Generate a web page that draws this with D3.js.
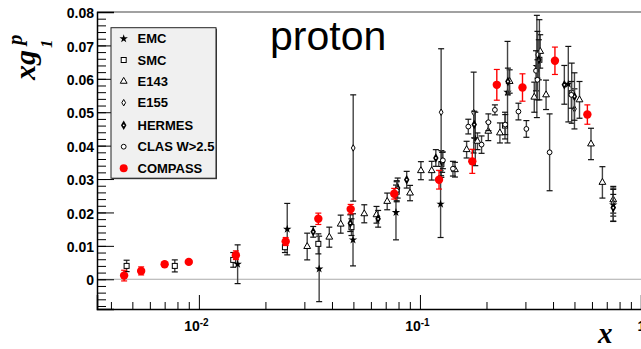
<!DOCTYPE html>
<html>
<head>
<meta charset="utf-8">
<script src="https://cdn.jsdelivr.net/npm/d3@7"></script>
<style>
  body { margin: 0; background: #fff; }
  svg { display: block; }
  .tick text { font-family: "Liberation Sans", Arial, sans-serif; font-weight: bold; font-size: 14px; fill: #000; }
</style>
</head>
<body>
<svg id="chart" width="641" height="349"></svg>
<script>
// each point: [x, xg1, error]
const emc = [[0.01497,0.0045,0.0058],[0.0251,0.0150,0.0077],[0.035,0.0031,0.0098],[0.0498,0.0118,0.0078],
  [0.0779,0.0200,0.0082],[0.124,0.0225,0.0100],[0.178,0.0420,0.0080],[0.249,0.0560,0.0152],
  [0.338,0.0637,0.0153],[0.469,0.0584,0.0113],[0.749,0.0223,0.0050]];
const smc = [[0.00471,0.0040,0.0017],[0.00778,0.0040,0.0018],[0.0143,0.0058,0.0022],[0.0245,0.0096,0.0016],
  [0.0347,0.0106,0.0030],[0.049,0.0156,0.0025],[0.0785,0.0262,0.0030],[0.125,0.0345,0.0040],
  [0.2425,0.0460,0.0040],[0.347,0.0657,0.0120],[0.486,0.0557,0.0090]];
const e143 = [[0.0309,0.0098,0.0040],[0.0389,0.0126,0.0030],[0.0438,0.0165,0.0027],[0.056,0.0196,0.0027],
  [0.0636,0.0193,0.0025],[0.0711,0.0233,0.0025],[0.0902,0.0258,0.0023],[0.101,0.0325,0.0027],
  [0.113,0.0325,0.0028],[0.144,0.0328,0.0022],[0.1626,0.0388,0.0025],[0.182,0.0413,0.0025],
  [0.2038,0.0443,0.0028],[0.230,0.0438,0.0030],[0.2546,0.0592,0.0035],[0.329,0.0545,0.0045],
  [0.350,0.0682,0.0050],[0.372,0.0552,0.0044],[0.527,0.0537,0.0055],[0.594,0.0405,0.0047],
  [0.669,0.0290,0.0047],[0.749,0.0238,0.0040]];
const e155 = [[0.0499,0.0393,0.0159],[0.1247,0.0500,0.0190],[0.175,0.0499,0.0121],[0.340,0.0672,0.0070],
  [0.50,0.0510,0.0060],[0.749,0.0229,0.0040]];
const hermes = [[0.0329,0.0142,0.0016],[0.0484,0.0168,0.0025],[0.0647,0.0181,0.0025],[0.0793,0.0273,0.0030],
  [0.0871,0.0298,0.0025],[0.118,0.0363,0.0025],[0.126,0.0350,0.0030],[0.176,0.0463,0.0040],
  [0.25,0.0592,0.0040],[0.345,0.0657,0.0060],[0.45,0.0582,0.0058],[0.50,0.0547,0.0071],[0.749,0.0214,0.0040]];
const clas = [[0.0785,0.0265,0.0030],[0.127,0.0356,0.0025],[0.141,0.0331,0.0022],[0.1655,0.0457,0.0022],
  [0.19,0.0403,0.0026],[0.204,0.0470,0.0025],[0.2183,0.0507,0.0015],[0.243,0.0463,0.0030],
  [0.279,0.0502,0.0025],[0.303,0.0450,0.0025],[0.335,0.0624,0.0060],[0.34,0.0597,0.0060],
  [0.386,0.0380,0.0115],[0.484,0.0552,0.0040]];
const compass = [[0.00459,0.0011,0.0016],[0.00548,0.0025,0.0012],[0.0070,0.0045,0.0006],[0.0090,0.0052,0.0005],
  [0.0147,0.0072,0.0013],[0.0247,0.0113,0.0012],[0.0347,0.0181,0.0017],[0.0486,0.0210,0.0014],
  [0.0765,0.0256,0.0016],[0.122,0.0298,0.0028],[0.1725,0.0353,0.0036],[0.2227,0.0582,0.0046],
  [0.291,0.0574,0.0041],[0.408,0.0654,0.0041],[0.572,0.0493,0.0029]];

const seriesNames = ['EMC', 'SMC', 'E143', 'E155', 'HERMES', 'CLAS W>2.5', 'COMPASS'];
const seriesData = [emc, smc, e143, e155, hermes, clas, compass];
const xMajor = [0.01, 0.1, 1];
const xMajorExp = ['-2', '-1', ''];

const svg = d3.select('#chart');
const padL = 97, padR = 641, padT = 12, padB = 309;

const x = d3.scaleLog().domain([0.00346, 1]).range([padL, padR]);
const y = d3.scaleLinear().domain([-0.0089, 0.08]).range([padB, padT]);

// frame top
svg.append('line').attr('x1', padL).attr('x2', padR).attr('y1', padT).attr('y2', padT)
  .attr('stroke', '#444').attr('stroke-width', 1.2);

// zero line
svg.append('line').attr('x1', padL).attr('x2', padR).attr('y1', y(0)).attr('y2', y(0))
  .attr('stroke', '#aaa').attr('stroke-width', 1.2);

// x axis: minor ticks, then major
const xMinor = [];
[0.001, 0.01, 0.1].forEach(d => { for (let k = 2; k <= 9; k++) xMinor.push(d * k); });
svg.append('g').attr('transform', `translate(0,${padB})`)
  .call(d3.axisBottom(x).tickValues(xMinor.filter(v => v > 0.00346 && v < 1)).tickSize(-7).tickFormat(''))
  .call(g => g.select('.domain').remove());
const gx = svg.append('g').attr('transform', `translate(0,${padB})`)
  .call(d3.axisBottom(x).tickValues(xMajor).tickSize(-14).tickFormat(''));
gx.select('.domain').attr('stroke', '#000').attr('stroke-width', 1.5);
gx.selectAll('.tick').each(function(d, i) {
  const t = d3.select(this).append('text').attr('y', 22).attr('dx', i < 2 ? -3 : 0)
    .attr('text-anchor', 'middle').attr('fill', '#000');
  if (xMajorExp[i]) {
    t.append('tspan').text('10');
    t.append('tspan').attr('dy', -5).attr('font-size', 10).text(xMajorExp[i]);
  } else {
    t.text('1');
  }
});

// y axis
const yMinor = d3.range(-0.008, 0.0801, 0.002);
svg.append('g').attr('transform', `translate(${padL},0)`)
  .call(d3.axisLeft(y).tickValues(yMinor).tickSize(-9).tickFormat(''))
  .call(g => g.select('.domain').remove());
const gy = svg.append('g').attr('transform', `translate(${padL},0)`)
  .call(d3.axisLeft(y).tickValues(d3.range(0, 0.0801, 0.01)).tickSize(-17)
    .tickFormat(d => Math.abs(d) < 1e-9 ? '0' : d3.format('.2f')(d)));
gy.select('.domain').attr('stroke', '#000').attr('stroke-width', 1.5);
gy.selectAll('.tick text').attr('x', -3).attr('dy', '0.4em');
svg.selectAll('.tick line').attr('stroke', '#000');

// markers
function drawMarker(g, type) {
  if (type === 0) {
    g.append('path').attr('d', d3.symbol(d3.symbolStar, 22)()).attr('fill', '#000');
  } else if (type === 1) {
    g.append('rect').attr('x', -2.5).attr('y', -2.5).attr('width', 5).attr('height', 5)
      .attr('fill', '#fff').attr('stroke', '#000').attr('stroke-width', 1);
  } else if (type === 2) {
    g.append('path').attr('d', d3.symbol(d3.symbolTriangle, 20)()).attr('fill', '#fff')
      .attr('stroke', '#000').attr('stroke-width', 1);
  } else if (type === 3) {
    g.append('path').attr('d', d3.symbol(d3.symbolDiamond, 12)()).attr('fill', '#fff')
      .attr('stroke', '#000').attr('stroke-width', 1);
  } else if (type === 4) {
    g.append('path').attr('d', d3.symbol(d3.symbolDiamond, 26)()).attr('fill', '#000');
    g.append('circle').attr('r', 0.9).attr('fill', '#fff');
  } else if (type === 5) {
    g.append('circle').attr('r', 2.4).attr('fill', '#fff').attr('stroke', '#000').attr('stroke-width', 1);
  } else {
    g.append('circle').attr('r', 4.2).attr('fill', '#f00');
  }
}

seriesData.forEach((data, si) => {
  const red = si === 6;
  const pts = svg.append('g').selectAll('g').data(data).join('g');
  pts.append('line')
    .attr('x1', d => x(d[0])).attr('x2', d => x(d[0]))
    .attr('y1', d => y(d[1] - d[2])).attr('y2', d => y(d[1] + d[2]))
    .attr('stroke', red ? '#f00' : '#444').attr('stroke-width', 1.4);
  [1, -1].forEach(s => {
    pts.append('line')
      .attr('x1', d => x(d[0]) - 3).attr('x2', d => x(d[0]) + 3)
      .attr('y1', d => y(d[1] + s * d[2])).attr('y2', d => y(d[1] + s * d[2]))
      .attr('stroke', red ? '#f00' : '#111').attr('stroke-width', 1.2);
  });
  pts.append('g').attr('transform', d => `translate(${x(d[0])},${y(d[1])})`)
    .each(function() { drawMarker(d3.select(this), si); });
});

// legend
const legend = svg.append('g');
legend.append('rect').attr('x', 112).attr('y', 28.7).attr('width', 105).attr('height', 150.5).attr('fill', '#444');
legend.append('rect').attr('x', 111).attr('y', 27.7).attr('width', 105).attr('height', 150.5)
  .attr('fill', '#f0f0f0').attr('stroke', '#222').attr('stroke-width', 1);
const legendY = [38.7, 60, 81.3, 102.7, 125.3, 146.7, 168.3];
seriesNames.forEach((name, i) => {
  const m = legend.append('g').attr('transform', `translate(123.7,${legendY[i]})`);
  drawMarker(m, i);
  if (i === 6) m.select('circle').attr('r', 4);
  legend.append('text').attr('x', 137.5).attr('y', legendY[i]).attr('dy', '0.36em')
    .attr('font-family', '"Liberation Sans", Arial, sans-serif').attr('font-weight', 'bold')
    .attr('font-size', 13).text(name);
});

// title
svg.append('text').attr('x', 270).attr('y', 50)
  .attr('font-family', '"Liberation Sans", Arial, sans-serif').attr('font-size', 41).text('proton');

// axis titles
const serif = '"Liberation Serif", "Times New Roman", serif';
const yt = svg.append('g').attr('transform', 'translate(35,80) rotate(-90)')
  .attr('font-family', serif).attr('font-weight', 'bold').attr('font-style', 'italic');
yt.append('text').attr('font-size', 30).text('xg');
yt.append('text').attr('x', 35).attr('y', -13).attr('font-size', 21).text('p');
yt.append('text').attr('x', 32).attr('y', 17).attr('font-size', 17).text('1');

svg.append('text').attr('x', 598).attr('y', 343).attr('font-family', serif)
  .attr('font-weight', 'bold').attr('font-style', 'italic').attr('font-size', 29).text('x');
</script>
</body>
</html>
